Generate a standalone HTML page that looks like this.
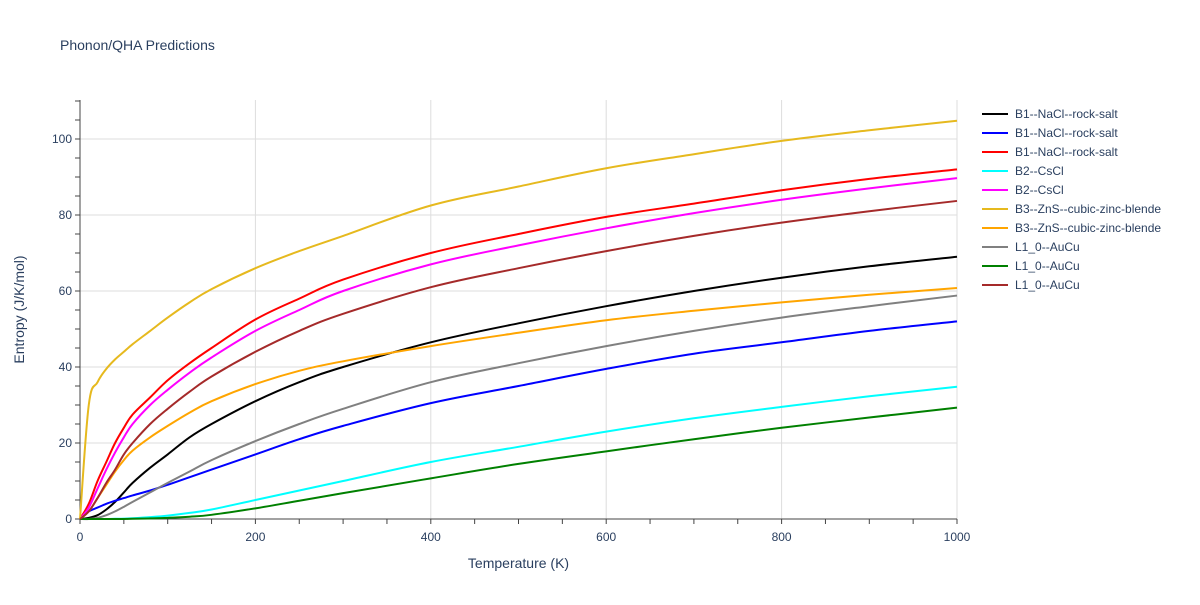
<!DOCTYPE html>
<html><head><meta charset="utf-8"><style>
body{margin:0;background:#fff;font-family:"Liberation Sans",sans-serif}
svg text{font-family:"Liberation Sans",sans-serif;fill:#2a3f5f}
</style></head><body>
<svg id="c" width="1200" height="600"></svg>
<script>
const temps=[0,10,20,30,40,50,60,80,100,125,150,200,250,300,400,500,600,700,800,900,1000];
const names=["B1--NaCl--rock-salt","B1--NaCl--rock-salt","B1--NaCl--rock-salt","B2--CsCl","B2--CsCl","B3--ZnS--cubic-zinc-blende","B3--ZnS--cubic-zinc-blende","L1_0--AuCu","L1_0--AuCu","L1_0--AuCu"];
const colors=["#000000","#0000ff","#ff0000","#00ffff","#ff00ff","#e6b91e","#ffa500","#808080","#008000","#a52a2a"];
const sBlack=[0,0.3,1,2.5,4.5,7,9.5,13.5,17,21.5,25,31,36,40,46.5,51.5,56,60,63.5,66.5,69];
const sBlue=[0,2,3,4,4.8,5.5,6.2,7.5,9,11,13,17,21,24.5,30.5,35,39.5,43.5,46.5,49.5,52];
const sRed=[0,4,10,15,20,24,27.5,32,36.5,41,45,52.5,58,63,70,75,79.5,83,86.5,89.5,92];
const sCyan=[0,0,0,0,0.05,0.1,0.2,0.5,0.9,1.6,2.5,5,7.5,10,15,19,23,26.5,29.5,32.3,34.8];
const sMagenta=[0,3,8,13,17.5,21.5,25,30,34,38.5,42.5,49.5,55,60,67,72,76.5,80.5,84,87,89.7];
const sGold=[0,30,36,39.5,42,44,46,49.5,53,57,60.5,66,70.5,74.5,82.5,87.5,92.3,96,99.5,102.3,104.8];
const sOrange=[0,2,5.5,9,12.5,15.5,18,21.5,24.5,28,31,35.5,39,41.5,45.5,49,52.3,54.8,57,59,60.8];
const sGray=[0,0,0.3,1,2,3.2,4.5,7,9.5,12.5,15.5,20.5,25,29,36,41,45.5,49.5,53,56,58.8];
const sGreen=[0,0,0,0,0,0,0.05,0.15,0.3,0.6,1.1,2.8,4.8,6.8,10.7,14.5,17.8,21,24,26.7,29.3];
const sBrown=[0,2,5.5,9.5,13,17,20,25,29,33.5,37.5,44,49.5,54,61,66,70.5,74.5,78,81,83.7];
const series=[sBlack,sBlue,sRed,sCyan,sMagenta,sGold,sOrange,sGray,sGreen,sBrown];
const xTicks=[0,200,400,600,800,1000];
const yTicks=[0,20,40,60,80,100];
const X0=80,X1=957,Y0=519,YT=100;
const x=v=>X0+(X1-X0)*v/1000;
const y=v=>Y0-3.8*v;
const svg=document.getElementById('c');
const NS='http://www.w3.org/2000/svg';
function mk(t,a,p){const e=document.createElementNS(NS,t);for(const k in a)e.setAttribute(k,a[k]);(p||svg).appendChild(e);return e;}
function smooth(pts){
 let d='M'+pts[0][0]+','+pts[0][1];
 for(let i=0;i<pts.length-1;i++){
  const p0=pts[Math.max(0,i-1)],p1=pts[i],p2=pts[i+1],p3=pts[Math.min(pts.length-1,i+2)];
  const t=0.18;
  const c1=[p1[0]+(p2[0]-p0[0])*t,p1[1]+(p2[1]-p0[1])*t];
  const c2=[p2[0]-(p3[0]-p1[0])*t,p2[1]-(p3[1]-p1[1])*t];
  d+=` C${c1[0]},${c1[1]} ${c2[0]},${c2[1]} ${p2[0]},${p2[1]}`;
 }
 return d;
}
let e;
e=mk('text',{x:60,y:50,'font-size':14});e.textContent='Phonon/QHA Predictions';


xTicks.forEach(t=>{
 if(t>0){e=mk('line',{x1:x(t),x2:x(t),y1:YT,y2:Y0,stroke:'#ddd'});
 
 }
 e=mk('text',{x:x(t),y:Y0+22,'text-anchor':'middle','font-size':12});e.textContent=t;
 
 
});
yTicks.forEach(t=>{
 if(t>0){e=mk('line',{x1:X0,x2:X1,y1:y(t),y2:y(t),stroke:'#ddd'});
 
 }
 e=mk('text',{x:X0-8,y:y(t)+4,'text-anchor':'end','font-size':12});e.textContent=t;
 
 
});
for(let t=0;t<=1000;t+=50){e=mk('line',{x1:x(t),x2:x(t),y1:Y0,y2:Y0+5,stroke:'#444'});
 
 }
for(let v=0;v<=110;v+=5){e=mk('line',{x1:X0-5,x2:X0,y1:y(v),y2:y(v),stroke:'#444'});
 
 }
e=mk('line',{x1:X0,x2:X0,y1:YT,y2:Y0,stroke:'#444'});


e=mk('line',{x1:X0,x2:X1,y1:Y0,y2:Y0,stroke:'#444'});


e=mk('text',{x:(X0+X1)/2,y:568,'text-anchor':'middle','font-size':14});e.textContent='Temperature (K)';


e=mk('text',{x:24,y:(YT+Y0)/2,'text-anchor':'middle','font-size':14,transform:`rotate(-90 24 ${(YT+Y0)/2})`});e.textContent='Entropy (J/K/mol)';


series.forEach((s,i)=>{
 e=mk('path',{d:smooth(s.map((v,j)=>[x(temps[j]),y(v)])),fill:'none',stroke:colors[i],'stroke-width':2,'stroke-linejoin':'round'});
 
 
 const ly=114+19*i;
 const g=mk('g',{});
 
 
 mk('line',{x1:982,x2:1008,y1:ly,y2:ly,stroke:colors[i],'stroke-width':2},g);
 const t=mk('text',{x:1015,y:ly+4,'font-size':12},g);t.textContent=names[i];
});
</script>
</body></html>
